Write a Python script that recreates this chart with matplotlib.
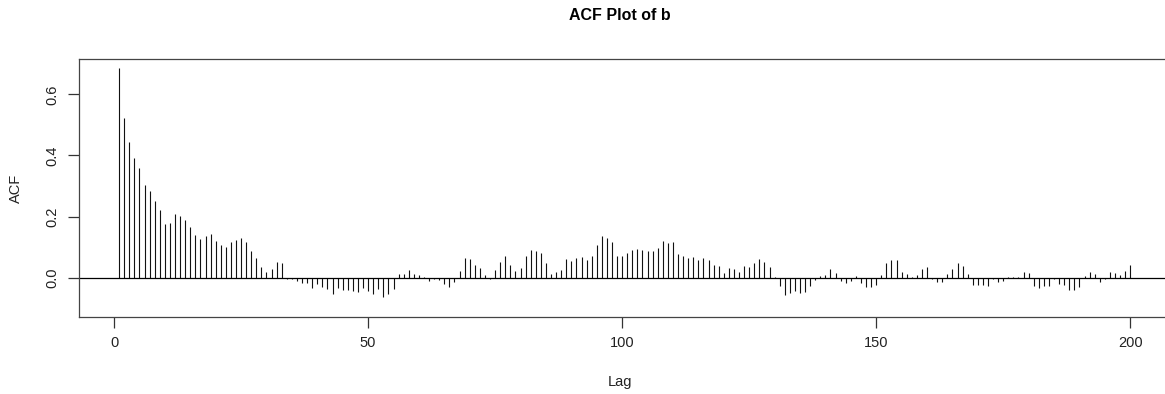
import numpy as np
import matplotlib
matplotlib.use("Agg")
import matplotlib.pyplot as plt

plt.rcParams['font.family'] = ['Liberation Sans', 'DejaVu Sans']

# autocorrelation values, lags 1..200
acf_1_40 = [0.685, 0.524, 0.443, 0.393, 0.358, 0.304, 0.283, 0.251, 0.220, 0.177,
            0.180, 0.207, 0.202, 0.189, 0.165, 0.140, 0.127, 0.136, 0.143, 0.120,
            0.107, 0.101, 0.117, 0.123, 0.129, 0.117, 0.086, 0.063, 0.036, 0.017,
            0.029, 0.051, 0.048, -0.003, -0.005, -0.010, -0.019, -0.019, -0.033, -0.020]
acf_41_80 = [-0.031, -0.038, -0.055, -0.034, -0.039, -0.039, -0.043, -0.048, -0.034, -0.044,
             -0.055, -0.036, -0.064, -0.055, -0.036, 0.013, 0.013, 0.026, 0.013, 0.007,
             0.001, -0.011, -0.004, -0.007, -0.022, -0.031, -0.014, 0.021, 0.063, 0.060,
             0.041, 0.033, 0.008, -0.004, 0.024, 0.051, 0.070, 0.040, 0.023, 0.032]
acf_81_120 = [0.070, 0.092, 0.086, 0.080, 0.047, 0.013, 0.020, 0.026, 0.060, 0.053,
              0.063, 0.067, 0.057, 0.072, 0.107, 0.135, 0.129, 0.117, 0.070, 0.070,
              0.080, 0.092, 0.095, 0.092, 0.088, 0.088, 0.098, 0.119, 0.113, 0.117,
              0.076, 0.070, 0.063, 0.067, 0.057, 0.063, 0.057, 0.041, 0.038, 0.016]
acf_121_160 = [0.033, 0.029, 0.020, 0.038, 0.035, 0.048, 0.060, 0.051, 0.035, 0.001,
               -0.028, -0.056, -0.050, -0.044, -0.050, -0.047, -0.027, -0.008, 0.004, 0.007,
               0.029, 0.016, -0.011, -0.017, -0.011, 0.004, -0.017, -0.031, -0.031, -0.023,
               0.008, 0.047, 0.057, 0.057, 0.020, 0.013, 0.001, 0.007, 0.029, 0.035]
acf_161_200 = [-0.005, -0.014, -0.014, 0.013, 0.029, 0.047, 0.038, 0.013, -0.024, -0.024,
               -0.024, -0.027, -0.005, -0.014, -0.011, 0.001, 0.001, 0.001, 0.020, 0.016,
               -0.027, -0.034, -0.027, -0.027, -0.005, -0.020, -0.024, -0.039, -0.039, -0.031,
               0.004, 0.020, 0.013, -0.014, -0.005, 0.020, 0.016, 0.007, 0.023, 0.041]

acf = np.array(acf_1_40 + acf_41_80 + acf_81_120 + acf_121_160 + acf_161_200)
lags = np.arange(1, len(acf) + 1)

x_ticks = [0, 50, 100, 150, 200]
y_ticks = [0.0, 0.2, 0.4, 0.6]

W, H = 1165, 394
fig = plt.figure(figsize=(W / 100, H / 100), dpi=100)
# plot frame in pixels (right edge falls just outside the image, as in the reference)
left, right, top, bottom = 78.7, 1170.7, 58.7, 316.7
ax = fig.add_axes([left / W, 1 - bottom / H, (right - left) / W, (bottom - top) / H])

ax.vlines(lags, 0, acf, colors='#111111', linewidth=0.8)
ax.axhline(0, color='black', linewidth=0.9)

ax.set_xlim(-6.96, 207.96)
ax.set_ylim(-0.128, 0.717)
ax.set_xticks(x_ticks)
ax.set_yticks(y_ticks)
ax.set_yticklabels([f"{v:.1f}" for v in y_ticks], rotation=90, va='center')
ax.tick_params(length=8, width=0.9, color='#333333', labelsize=10.5,
               labelcolor='#222222', pad=6)

for s in ax.spines.values():
    s.set_color('#444444')
    s.set_linewidth(0.9)

fig.text(620 / W, 1 - 15 / H, "ACF Plot of b",
         ha='center', va='center', fontsize=11.5, fontweight='bold')
fig.text(620 / W, 1 - 382 / H, "Lag", ha='center', va='center', fontsize=10.5,
         color='#222222')
fig.text(16 / W, 1 - 188 / H, "ACF", ha='center', va='center', rotation=90,
         fontsize=10.5, color='#222222')

fig.savefig("out.png", dpi=100)
